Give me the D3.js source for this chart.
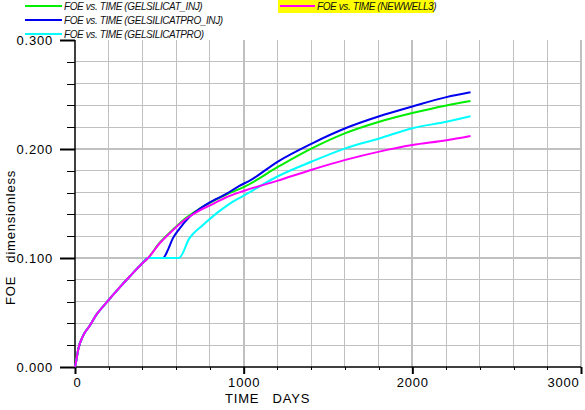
<!DOCTYPE html>
<html>
<head>
<meta charset="utf-8">
<script src="https://cdn.jsdelivr.net/npm/d3@7"></script>
<style>
  body { margin: 0; background: #fff; }
  svg { display: block; }
  text { font-family: "Liberation Sans", Arial, sans-serif; }
</style>
</head>
<body>
<script>
var w = 585;
var h = 410;

// series data (days, FOE)
var timeInj     = [0, 6, 20, 49, 88, 127, 186, 265, 324, 398, 433, 502, 580, 659, 737, 816, 894, 1000, 1203, 1404, 1603, 1804, 2000, 2202, 2345];
var foeInj      = [0, 0.0045, 0.0167, 0.029, 0.038, 0.048, 0.059, 0.073, 0.083, 0.095, 0.100, 0.114, 0.126, 0.137, 0.145, 0.152, 0.158, 0.165, 0.1835, 0.2005, 0.2145, 0.225, 0.233, 0.240, 0.244];

var timeProInj  = [0, 6, 20, 49, 88, 127, 186, 265, 324, 398, 433, 522, 551, 580, 620, 678, 737, 816, 894, 972, 1031, 1203, 1404, 1603, 1804, 2000, 2202, 2345];
var foeProInj   = [0, 0.0045, 0.0167, 0.029, 0.038, 0.048, 0.059, 0.073, 0.083, 0.095, 0.100, 0.100, 0.1075, 0.118, 0.127, 0.1375, 0.145, 0.1525, 0.1585, 0.166, 0.1705, 0.1885, 0.205, 0.219, 0.230, 0.239, 0.2476, 0.252];

var timePro     = [0, 6, 20, 49, 88, 127, 186, 265, 324, 398, 433, 616, 678, 757, 835, 914, 998, 1031, 1203, 1404, 1603, 1804, 2000, 2202, 2345];
var foePro      = [0, 0.0045, 0.0167, 0.029, 0.038, 0.048, 0.059, 0.073, 0.083, 0.095, 0.100, 0.100, 0.118, 0.130, 0.1405, 0.1495, 0.157, 0.160, 0.175, 0.1885, 0.2006, 0.2097, 0.219, 0.225, 0.230];

var timeWell3   = [0, 6, 20, 49, 88, 127, 186, 265, 324, 398, 433, 502, 580, 659, 737, 816, 894, 1000, 1203, 1404, 1603, 1804, 2000, 2202, 2345];
var foeWell3    = [0, 0.0045, 0.0167, 0.029, 0.038, 0.048, 0.059, 0.073, 0.083, 0.095, 0.100, 0.1135, 0.1255, 0.136, 0.1435, 0.1495, 0.1555, 0.1615, 0.171, 0.181, 0.190, 0.1976, 0.2036, 0.208, 0.212];

var seriesNames = ["FOE vs. TIME (GELSILICAT_INJ)", "FOE vs. TIME (GELSILICATPRO_INJ)", "FOE vs. TIME (GELSILICATPRO)", "FOE vs. TIME (NEWWELL3)"];
var seriesColors = ["#00ee00", "#0000ee", "#00ffff", "#ff00ff"];

var xTicks = [0, 1000, 2000, 3000];
var yTicks = [0, 0.1, 0.2, 0.3];

var series = [
  {name: seriesNames[0], color: seriesColors[0], t: timeInj, v: foeInj},
  {name: seriesNames[1], color: seriesColors[1], t: timeProInj, v: foeProInj},
  {name: seriesNames[2], color: seriesColors[2], t: timePro, v: foePro},
  {name: seriesNames[3], color: seriesColors[3], t: timeWell3, v: foeWell3}
];

var x = d3.scaleLinear().domain([0, 3000]).range([75, 581]);
var y = d3.scaleLinear().domain([0, 0.3]).range([367, 40]);

var svg = d3.select("body").append("svg")
  .attr("width", w)
  .attr("height", h);

// grid
var grid = svg.append("g");
grid.selectAll("line.vx")
  .data(d3.range(200, 3001, 200))
  .enter().append("line")
  .attr("x1", function(d){ return x(d); })
  .attr("x2", function(d){ return x(d); })
  .attr("y1", y(0.3))
  .attr("y2", y(0))
  .attr("stroke", "#c0c0c0")
  .attr("stroke-width", function(d){ return d % 1000 == 0 ? 2 : 1; })
  .attr("shape-rendering", "crispEdges");

grid.selectAll("line.hy")
  .data(d3.range(1, 15).map(function(i){ return i * 0.02; }))
  .enter().append("line")
  .attr("x1", x(0))
  .attr("x2", x(3000))
  .attr("y1", function(d){ return y(d); })
  .attr("y2", function(d){ return y(d); })
  .attr("stroke", "#c0c0c0")
  .attr("stroke-width", function(d){ return Math.abs(d*10 - Math.round(d*10)) < 1e-6 ? 2 : 1; })
  .attr("shape-rendering", "crispEdges");

// axes: minor ticks
svg.append("g")
  .attr("transform", "translate(" + x(0) + ",0)")
  .call(d3.axisLeft(y).tickValues(d3.range(0, 16).map(function(i){ return i * 0.02; })).tickSize(8).tickFormat(""))
  .call(function(g){ g.select(".domain").remove(); })
  .selectAll("line").attr("stroke", "#000").attr("shape-rendering", "crispEdges");

svg.append("g")
  .attr("transform", "translate(0," + y(0) + ")")
  .call(d3.axisBottom(x).tickValues(d3.range(0, 3001, 200)).tickSize(3).tickFormat(""))
  .call(function(g){ g.select(".domain").remove(); })
  .selectAll("line").attr("stroke", "#000").attr("shape-rendering", "crispEdges");

// major ticks with labels
var yAxis = svg.append("g")
  .attr("transform", "translate(" + x(0) + ",0)")
  .call(d3.axisLeft(y).tickValues(yTicks).tickSize(15).tickPadding(7).tickFormat(d3.format(".3f")));
yAxis.select(".domain").remove();
yAxis.selectAll("line").attr("stroke", "#000").attr("stroke-width", 2);
yAxis.selectAll("text")
  .attr("font-family", "Liberation Sans, Arial, sans-serif")
  .attr("font-size", "13px")
  .attr("letter-spacing", "0.8px")
  .attr("fill", "#000");

var xAxis = svg.append("g")
  .attr("transform", "translate(0," + y(0) + ")")
  .call(d3.axisBottom(x).tickValues(xTicks).tickSize(7).tickPadding(4).tickFormat(d3.format("d")));
xAxis.select(".domain").remove();
xAxis.selectAll("line").attr("stroke", "#000").attr("stroke-width", 2);
xAxis.selectAll("text")
  .attr("font-family", "Liberation Sans, Arial, sans-serif")
  .attr("font-size", "13px")
  .attr("letter-spacing", "0.8px")
  .attr("fill", "#000")
  .attr("text-anchor", function(d){ return d == 3000 ? "end" : "middle"; })
  .attr("dx", function(d){ return d == 3000 ? "-2" : (d == 0 ? "2" : "0"); });

// axis lines
svg.append("line")
  .attr("x1", x(0)).attr("x2", x(0))
  .attr("y1", y(0.3)).attr("y2", y(0))
  .attr("stroke", "#000").attr("stroke-width", 1.5);
svg.append("line")
  .attr("x1", x(0)).attr("x2", x(3000))
  .attr("y1", y(0)).attr("y2", y(0))
  .attr("stroke", "#000").attr("stroke-width", 1.5);

// axis titles
svg.append("text")
  .attr("x", 225)
  .attr("y", 403)
  .attr("font-size", "13px")
  .attr("letter-spacing", "0.8px")
  .style("white-space", "pre")
  .text("TIME   DAYS");

svg.append("text")
  .attr("transform", "translate(15,305) rotate(-90)")
  .attr("font-size", "13px")
  .attr("letter-spacing", "0.8px")
  .style("white-space", "pre")
  .text("FOE   dimensionless");

// curves
var line = d3.line()
  .curve(d3.curveMonotoneX)
  .x(function(d){ return x(d[0]); })
  .y(function(d){ return y(d[1]); });

svg.selectAll("path.curve")
  .data(series)
  .enter().append("path")
  .attr("class", "curve")
  .attr("d", function(s){ return line(d3.zip(s.t, s.v)); })
  .attr("fill", "none")
  .attr("stroke", function(s){ return s.color; })
  .attr("stroke-width", 2);

// legend
var legendPos = [
  {x: 25, y: 6, len: 37},
  {x: 25, y: 20, len: 37},
  {x: 25, y: 34, len: 37},
  {x: 280, y: 6, len: 35}
];

svg.append("rect")
  .attr("x", 278).attr("y", 0)
  .attr("width", 156).attr("height", 13)
  .attr("fill", "#ffff00");

var legend = svg.selectAll("g.leg")
  .data(series)
  .enter().append("g")
  .attr("class", "leg");

legend.append("line")
  .attr("x1", function(d, i){ return legendPos[i].x; })
  .attr("x2", function(d, i){ return legendPos[i].x + legendPos[i].len; })
  .attr("y1", function(d, i){ return legendPos[i].y; })
  .attr("y2", function(d, i){ return legendPos[i].y; })
  .attr("stroke", function(d){ return d.color; })
  .attr("stroke-width", 2);

legend.append("text")
  .attr("x", function(d, i){ return legendPos[i].x + legendPos[i].len + 2; })
  .attr("y", function(d, i){ return legendPos[i].y + 4; })
  .attr("font-size", "10px")
  .attr("font-style", "italic")
  .attr("letter-spacing", "-0.4px")
  .attr("fill", "#111")
  .text(function(d){ return d.name; });
</script>
</body>
</html>
